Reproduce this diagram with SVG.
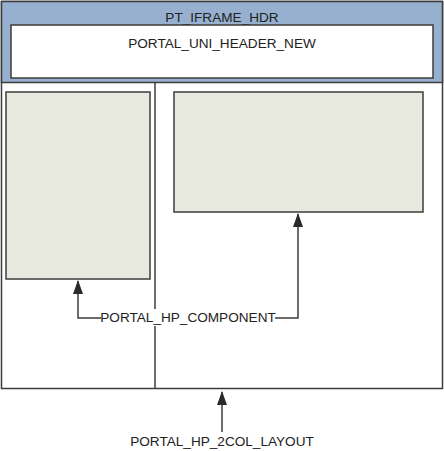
<svg xmlns="http://www.w3.org/2000/svg" width="444" height="451" viewBox="0 0 444 451">
<style>
.t{font-family:"Liberation Sans",Arial,sans-serif;font-size:13.6px;fill:#222;text-anchor:middle}
.b{stroke:#3c3c3c;stroke-width:1.5}
.c{fill:none;stroke:#3c3c3c;stroke-width:1.5}
</style>
<defs>
<marker id="ah" markerWidth="14" markerHeight="10" refX="13" refY="5" orient="auto" markerUnits="userSpaceOnUse" viewBox="0 0 14 10">
<path d="M0,0 L14,5 L0,10 Z" fill="#2a2a2a"/>
</marker>
</defs>
<g id="layout">
<rect class="b" x="1.5" y="1.5" width="441" height="387" fill="#fff"/>
<line class="b" x1="155" y1="82" x2="155" y2="388"/>
</g>
<g id="hdr">
<rect class="b" x="1.5" y="1.5" width="441" height="81" fill="#97b0d0"/>
<text class="t" x="222" y="22">PT_IFRAME_HDR</text>
</g>
<g id="uniheader">
<rect class="b" x="11" y="25" width="422" height="53" fill="#fff"/>
<text class="t" x="222" y="48">PORTAL_UNI_HEADER_NEW</text>
</g>
<g id="leftcomp">
<rect class="b" x="6" y="92" width="144" height="187" fill="#e9eadf"/>
</g>
<g id="rightcomp">
<rect class="b" x="174" y="92" width="249" height="120" fill="#e9eadf"/>
</g>
<g id="connectors">
<path class="c" d="M101,318 H78 V281" marker-end="url(#ah)"/>
<path class="c" d="M275,318 H298 V214" marker-end="url(#ah)"/>
<path class="c" d="M222,432 V392" marker-end="url(#ah)"/>
</g>
<g id="labels">
<rect x="101" y="309" width="174" height="17" fill="#fff"/>
<text class="t" x="188" y="322">PORTAL_HP_COMPONENT</text>
<text class="t" x="222" y="446">PORTAL_HP_2COL_LAYOUT</text>
</g>
</svg>
